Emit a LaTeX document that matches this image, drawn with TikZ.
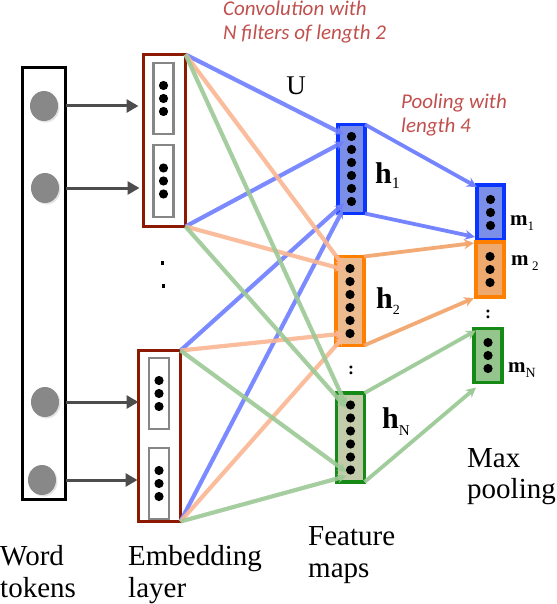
\documentclass[tikz,border=0pt]{standalone}
\usepackage{fontspec}
\setmainfont{Liberation Serif}
\newfontfamily\redfont{Carlito}
\usetikzlibrary{arrows.meta,calc,shadows,shapes.geometric}
\definecolor{redtxt}{HTML}{C0504D}
\definecolor{embred}{HTML}{8B1A00}
\definecolor{bluebd}{HTML}{0A35FF}
\definecolor{bluefill}{HTML}{7B8EE8}
\definecolor{bluel}{HTML}{6E7EFF}
\definecolor{orbd}{HTML}{FF7F00}
\definecolor{orfill}{HTML}{EBBA8E}
\definecolor{orfillm}{HTML}{EEAA6E}
\definecolor{orl}{HTML}{FAB692}
\definecolor{orpl}{HTML}{F2A66E}
\definecolor{grbd}{HTML}{168A16}
\definecolor{grfill}{HTML}{C3CCAA}
\definecolor{grfillm}{HTML}{94C58C}
\definecolor{grl}{HTML}{9CC996}
\definecolor{tokgray}{HTML}{888888}
\definecolor{arrgray}{HTML}{4D4D4D}
\begin{document}
\begin{tikzpicture}[x=1pt,y=-1pt,
  shad/.style={drop shadow={opacity=0.22,shadow xshift=1.5pt,shadow yshift=-1.5pt}},
  box/.style={draw, rectangle, inner sep=0pt, outer sep=0pt},
  tokbox/.style={box, line width=2.4pt, minimum width=43pt, minimum height=432pt},
  tokc/.style={ellipse, fill=tokgray, minimum width=28pt, minimum height=30pt, inner sep=0pt, shad},
  embbox/.style={box, draw=embred, line width=3.8pt, minimum width=42pt, minimum height=172pt, fill=white, shad},
  innerbox/.style={box, draw=gray!95, line width=2.8pt, minimum width=20pt, minimum height=71pt},
  fmap/.style={box, line width=3.8pt, minimum width=27pt, minimum height=89pt, shad},
  mbox/.style={box, line width=3.8pt, minimum width=27pt, minimum height=55pt, shad},
  tokarrow/.style={draw=arrgray, line width=3pt, -{Triangle[length=12pt,width=13pt]}},
  conv/.style={line width=4.2pt, opacity=0.9, -{Stealth[length=9pt,width=9pt]}},
  pool/.style={line width=3.8pt, opacity=0.95, -{Stealth[length=10pt,width=10pt]}},
  bigtxt/.style={inner sep=0pt, anchor=base west, font=\fontsize{29}{32}\selectfont},
  redtxtst/.style={inner sep=0pt, anchor=base west, text=redtxt, font=\redfont\itshape\fontsize{21}{24}\selectfont},
  hlab/.style={inner sep=0pt, anchor=base west, font=\bfseries\fontsize{30}{32}\selectfont},
  mlab/.style={inner sep=0pt, anchor=base west, font=\bfseries\fontsize{21}{24}\selectfont},
  colon/.style={inner sep=0pt, font=\bfseries\fontsize{18}{18}\selectfont}
]
\useasboundingbox (0,0) rectangle (556,604);

% word tokens
\node[tokbox] (tok) at (44,283.5) {};
\node[tokc] (c1) at (44,106) {};
\node[tokc] (c2) at (45,188) {};
\node[tokc] (c3) at (45,402) {};
\node[tokc] (c4) at (42,480) {};

% embedding layer
\node[embbox] (emb1) at (164.5,140.5) {};
\node[embbox, minimum height=171pt] (emb2) at (159.5,436) {};
\node[innerbox] (e1a) at (163.5,98.5) {};
\node[innerbox, minimum height=72pt] (e1b) at (163.5,181) {};
\node[innerbox] (e2a) at (159,393.5) {};
\node[innerbox] (e2b) at (159,483.5) {};
\fill (160.5,260.5) rectangle (164,264.5);
\fill (161.5,283.5) rectangle (165,287.5);

% arrows from tokens
\draw[tokarrow, shorten >=5pt] (c1 -| tok.east) -- (c1 -| emb1.west);
\draw[tokarrow, shorten >=4pt] (c2 -| tok.east) -- (c2 -| emb1.west);
\draw[tokarrow] (c3 -| tok.east) -- (c3 -| emb2.west);
\draw[tokarrow, shorten >=1pt] (c4 -| tok.east) -- (c4 -| emb2.west);

% feature maps
\node[fmap, draw=bluebd, fill=bluefill] (h1) at (351.5,169) {};
\node[fmap, draw=orbd, fill=orfill, minimum width=28pt] (h2) at (350,301) {};
\node[fmap, draw=grbd, fill=grfill, minimum width=28pt] (hN) at (350.5,437.5) {};

% max pooling
\node[mbox, draw=bluebd, fill=bluefill] (m1) at (490.5,212.5) {};
\node[mbox, draw=orbd, fill=orfillm, minimum width=28pt] (m2) at (490,269.5) {};
\node[mbox, draw=grbd, fill=grfillm, minimum width=28pt, minimum height=54pt] (mN) at (488,355.5) {};

% convolution connectors
\draw[conv, draw=bluel, fill=bluel] (emb1.north east) -- ($(h1.north west)+(6,10)$);
\draw[conv, draw=bluel, fill=bluel] (emb1.south east) -- ($(h1.north west)+(6,17)$);
\draw[conv, draw=bluel, fill=bluel] (emb2.north east) -- ($(h1.south west)+(6,-10)$);
\draw[conv, draw=bluel, fill=bluel] (emb2.south east) -- ($(h1.south west)+(5,-4)$);

\draw[conv, draw=orl, fill=orl] (emb1.north east) -- ($(h2.north west)+(8,10)$);
\draw[conv, draw=orl, fill=orl] (emb1.south east) -- ($(h2.north west)+(8,13)$);
\draw[conv, draw=orl, fill=orl] (emb2.north east) -- ($(h2.south west)+(8,-12)$);
\draw[conv, draw=orl, fill=orl] (emb2.south east) -- ($(h2.south west)+(8,-9)$);

\draw[conv, draw=grl, fill=grl] (emb1.north east) -- ($(hN.north west)+(10,13)$);
\draw[conv, draw=grl, fill=grl] (emb1.south east) -- ($(hN.north west)+(10,15)$);
\draw[conv, draw=grl, fill=grl] (emb2.north east) -- ($(hN.south west)+(10,-10)$);
\draw[conv, draw=grl, fill=grl] (emb2.south east) -- ($(hN.south west)+(10,-6)$);

% pooling connectors
\draw[pool, draw=bluel, fill=bluel] (h1.north east) -- ($(m1.north west)+(0,2)$);
\draw[pool, draw=bluel, fill=bluel] (h1.south east) -- ($(m1.south west)+(-2,-3)$);
\draw[pool, draw=orpl, fill=orpl] (h2.north east) -- ($(m2.north west)+(-2,1)$);
\draw[pool, draw=orpl, fill=orpl] (h2.south east) -- ($(m2.south west)+(-2,1)$);
\draw[pool, draw=grl, fill=grl] (hN.north east) -- ($(mN.north west)+(2,2)$);
\draw[pool, draw=grl, fill=grl] (hN.south east) -- ($(mN.south west)+(2,5)$);

% dots
\foreach \n in {e1a,e1b,e2a,e2b,m1,m2,mN}
  \foreach \d in {-13,0,13}
    \fill ($(\n.center)+(0,\d)$) circle (4.6pt);
\foreach \n in {h1,h2,hN}
  \foreach \d in {-32.5,-19.5,-6.5,6.5,19.5,32.5}
    \fill ($(\n.center)+(0,\d)$) circle (4.6pt);

\node[colon] (col1) at (351,370) {:};
\node[colon] (col2) at (488,314) {:};

% labels
\node[bigtxt, anchor=center, font=\fontsize{27}{30}\selectfont] (U) at (296,86) {U};
\node[hlab] (lh1) at (375,183) {h\raisebox{-5pt}{\mdseries\fontsize{16}{16}\selectfont 1}};
\node[hlab] (lh2) at (376,308) {h\raisebox{-6pt}{\mdseries\fontsize{14}{14}\selectfont 2}};
\node[hlab] (lhN) at (382,428) {h\raisebox{-7pt}{\mdseries\fontsize{15}{15}\selectfont N}};
\node[mlab] (lm1) at (510,225) {m\raisebox{-5pt}{\mdseries\fontsize{13}{13}\selectfont 1}};
\node[mlab] (lm2) at (511,265) {m\,\raisebox{-5pt}{\mdseries\fontsize{13}{13}\selectfont 2}};
\node[mlab] (lmN) at (508,372) {m\raisebox{-5pt}{\mdseries\fontsize{14}{14}\selectfont N}};

\node[redtxtst] (r1) at (223,16) {Convolution with};
\node[redtxtst] (r2) at (223,39.5) {N filters of length 2};
\node[redtxtst] (r3) at (401,109) {Pooling with};
\node[redtxtst] (r4) at (401,133) {length 4};

\node[bigtxt] (w1) at (0,565) {Word};
\node[bigtxt] (w2) at (0,597) {tokens};
\node[bigtxt] (eb1) at (128,565) {Embedding};
\node[bigtxt] (eb2) at (128,597) {layer};
\node[bigtxt] (f1) at (308,545) {Feature};
\node[bigtxt] (f2) at (308,577) {maps};
\node[bigtxt] (x1) at (467,467) {Max};
\node[bigtxt] (x2) at (467,498) {pooling};
\end{tikzpicture}
\end{document}
